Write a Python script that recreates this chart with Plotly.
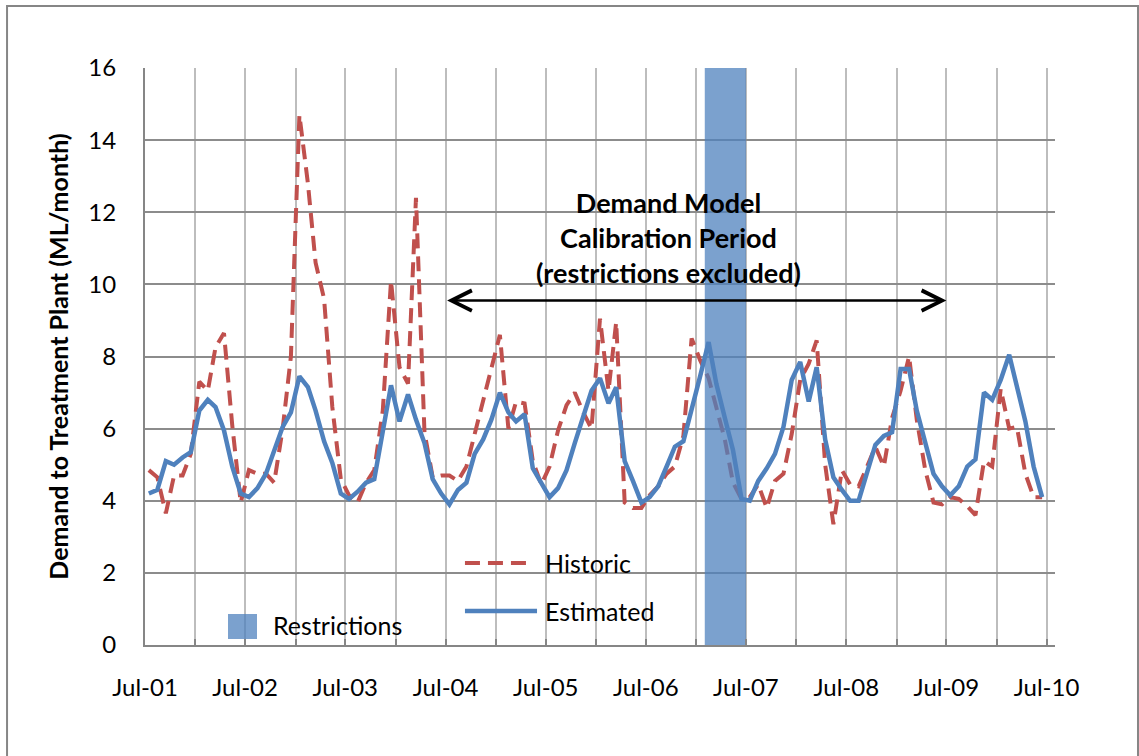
import pandas as pd
import plotly.graph_objects as go

# monthly values, Jul-01 .. Jun-10 (ML/month)
historic = [
    4.85, 4.65, 3.65, 4.7, 4.7, 5.3, 7.3, 7.05, 8.25, 8.65, 6.1, 3.95,
    4.85, 4.75, 4.75, 4.5, 6.0, 8.0, 14.7, 12.8, 10.6, 9.6, 6.6, 4.6,
    4.15, 3.95, 4.5, 4.85, 6.5, 10.1, 7.7, 7.25, 12.4, 5.9, 4.65, 4.7,
    4.7, 4.55, 4.95, 5.85, 6.8, 7.6, 8.6, 6.0, 6.75, 6.7, 5.1, 4.45,
    4.95, 5.95, 6.65, 7.0, 6.45, 6.0, 9.05, 7.05, 8.95, 3.95, 3.8, 3.8,
    4.15, 4.4, 4.75, 4.95, 5.8, 8.5, 7.9, 7.4, 6.55, 5.7, 4.5, 4.05,
    4.1, 4.45, 3.8, 4.55, 4.75, 5.85, 7.35, 7.8, 8.45, 5.0, 3.35, 4.85,
    4.45, 4.4, 4.95, 5.5, 4.95, 6.3, 7.05, 8.0, 6.25, 4.85, 3.95, 3.9,
    4.1, 4.05, 3.85, 3.6, 5.1, 4.95, 7.1, 6.0, 6.05, 4.75, 4.1, 4.1,
]
estimated = [
    4.2, 4.3, 5.1, 5.0, 5.2, 5.35, 6.5, 6.8, 6.6, 5.95, 4.95, 4.2,
    4.1, 4.35, 4.75, 5.4, 6.05, 6.45, 7.45, 7.15, 6.5, 5.65, 5.05, 4.2,
    4.05, 4.25, 4.5, 4.6, 5.85, 7.2, 6.2, 6.95, 6.25, 5.6, 4.6, 4.2,
    3.9, 4.3, 4.5, 5.3, 5.7, 6.25, 7.0, 6.45, 6.2, 6.4, 4.9, 4.5,
    4.1, 4.35, 4.85, 5.6, 6.35, 7.05, 7.4, 6.7, 7.15, 5.1, 4.55, 3.95,
    4.1, 4.4, 4.95, 5.5, 5.65, 6.5, 7.45, 8.4, 7.25, 6.3, 5.4, 4.05,
    4.0, 4.55, 4.9, 5.3, 6.05, 7.35, 7.85, 6.75, 7.7, 5.7, 4.65, 4.3,
    4.0, 4.0, 4.75, 5.55, 5.8, 5.9, 7.65, 7.65, 6.5, 5.6, 4.75, 4.4,
    4.15, 4.4, 4.95, 5.15, 7.0, 6.8, 7.35, 8.05, 7.15, 6.2, 4.95, 4.1,
]
# each month is plotted in the middle of its month slot
months = pd.date_range("2001-07-01", periods=len(historic), freq="MS") + pd.Timedelta(days=14)

restriction_start = "2007-02-01"
restriction_end = "2007-07-01"
restriction_level = 16

calibration_start = "2004-07-01"
calibration_end = "2009-07-01"

tick_dates = pd.date_range("2001-07-01", "2010-07-01", freq="6MS")
tick_labels = ["Jul-01", "", "Jul-02", "", "Jul-03", "", "Jul-04", "", "Jul-05", "",
               "Jul-06", "", "Jul-07", "", "Jul-08", "", "Jul-09", "", "Jul-10"]

RED = "#C0504D"
BLUE = "#4F81BD"
BAND = "rgba(79,129,189,0.75)"
FONT = "Lato, Carlito, Calibri, sans-serif"

fig = go.Figure()
fig.add_trace(go.Scatter(x=months, y=historic, name="Historic", mode="lines",
                         line=dict(color=RED, width=4, dash="15px,8px")))
fig.add_trace(go.Scatter(
    x=[restriction_start, restriction_start, restriction_end, restriction_end],
    y=[0, restriction_level, restriction_level, 0],
    name="Restrictions", mode="lines", fill="toself", fillcolor=BAND,
    line=dict(width=0)))
fig.add_trace(go.Scatter(x=months, y=estimated, name="Estimated", mode="lines",
                         line=dict(color=BLUE, width=4.5)))

fig.update_xaxes(
    type="date", range=["2001-07-01", "2010-08-01"],
    tickmode="array", tickvals=tick_dates, ticktext=tick_labels,
    ticks="inside", ticklen=6, tickcolor="#868686", tickwidth=1.5,
    showgrid=True, gridcolor="#BDBDBD", gridwidth=2,
    showline=True, linecolor="#868686", linewidth=2,
    ticklabelstandoff=20,
    tickfont=dict(family=FONT, size=24, color="black"),
)
fig.update_yaxes(
    range=[0, 16], dtick=2, showgrid=True, gridcolor="#8C8C8C", gridwidth=2,
    zeroline=False, showline=True, linecolor="#868686", linewidth=2,
    ticklabelstandoff=22,
    tickfont=dict(family=FONT, size=24, color="black"),
    title=dict(text="<b>Demand to Treatment Plant (ML/month)</b>", standoff=13,
               font=dict(family=FONT, size=25, color="black")),
)

shapes = [
    # outer chart border
    dict(type="rect", xref="paper", yref="paper", x0=-0.1516, x1=1.0912, y0=-0.23, y1=1.1075,
         line=dict(color="#868686", width=2), fillcolor="rgba(0,0,0,0)", layer="above"),
    # legend box for the two series
    dict(type="rect", xref="paper", yref="paper", x0=0.3165, x1=0.5901, y0=0.0139, y1=0.1768,
         line=dict(width=0), fillcolor="white", layer="between"),
    dict(type="line", xref="paper", yref="paper", x0=0.3516, x1=0.4209, y0=0.1421, y1=0.1421,
         line=dict(color=RED, width=4, dash="15px,8px")),
    dict(type="line", xref="paper", yref="paper", x0=0.3516, x1=0.4308, y0=0.0589, y1=0.0589,
         line=dict(color=BLUE, width=4.5)),
    # restrictions legend swatch
    dict(type="rect", xref="paper", yref="paper", x0=0.0912, x1=0.1231, y0=0.0104, y1=0.0537,
         line=dict(width=0), fillcolor=BAND),
]

annotations = [
    dict(xref="paper", yref="paper", x=0.4374, y=0.1421, xanchor="left", yanchor="middle",
         text="Historic", showarrow=False, font=dict(family=FONT, size=25, color="black")),
    dict(xref="paper", yref="paper", x=0.4374, y=0.0589, xanchor="left", yanchor="middle",
         text="Estimated", showarrow=False, font=dict(family=FONT, size=25, color="black")),
    dict(xref="paper", yref="paper", x=0.1385, y=0.0347, xanchor="left", yanchor="middle",
         text="Restrictions", showarrow=False, font=dict(family=FONT, size=25, color="black")),
    dict(xref="paper", yref="paper", x=0.5758, y=0.707, xanchor="center", yanchor="middle",
         text="<b>Demand Model<br>Calibration Period<br>(restrictions excluded)</b>",
         showarrow=False, align="center", font=dict(family=FONT, size=27, color="black")),
    dict(xref="x", yref="y", axref="x", ayref="y",
         x=calibration_end, y=9.55, ax=calibration_start, ay=9.55, text="",
         showarrow=True, arrowside="end+start", arrowhead=5, startarrowhead=5,
         arrowsize=1.6, startarrowsize=1.6, arrowwidth=2.5, arrowcolor="black",
         standoff=0, startstandoff=0),
]

fig.update_layout(
    width=1139, height=756,
    margin=dict(l=145, r=84, t=68, b=111),
    plot_bgcolor="white", paper_bgcolor="white",
    showlegend=False,
    font=dict(family=FONT, color="black"),
    shapes=shapes, annotations=annotations,
)

# drop the default page margin so the chart sits at the window's corner
fig.write_html("out.html", config={"displayModeBar": False},
               post_script="document.body.style.margin = '0';")
